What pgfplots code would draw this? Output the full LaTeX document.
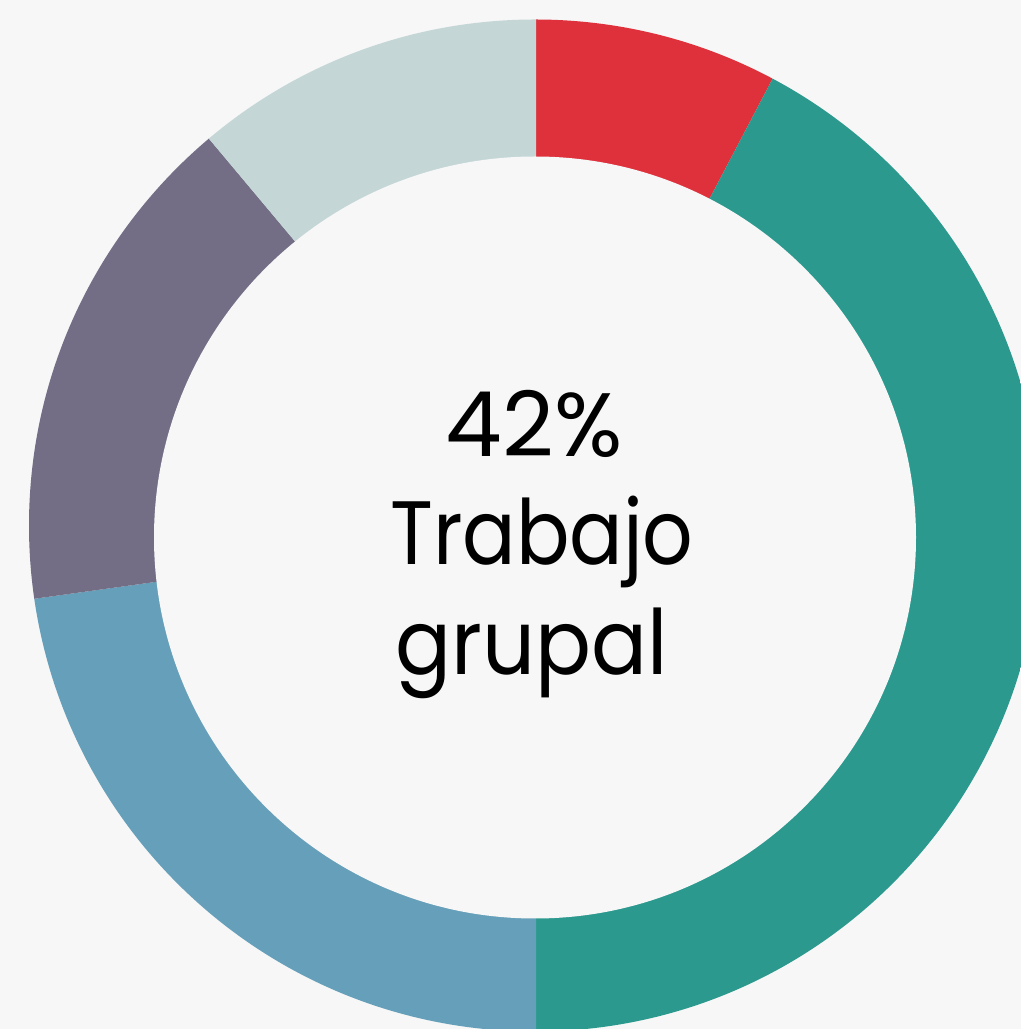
\documentclass[border=0pt]{standalone}
\usepackage{pgfplots}
\usepackage{pgfplotstable}
\pgfplotsset{compat=1.18}
\usepackage{fontspec}
\setmainfont{Poppins}
\newfontfamily\wordA{Poppins}[FakeStretch=0.88]
\newfontfamily\wordB{Poppins}[FakeStretch=0.92]
\definecolor{bgc}{HTML}{F7F7F7}
\definecolor{cred}{HTML}{DE313C}
\definecolor{cteal}{HTML}{2B998E}
\definecolor{cblue}{HTML}{669FB9}
\definecolor{cpurple}{HTML}{736E86}
\definecolor{cgray}{HTML}{C5D6D6}

\pgfplotstableread{
value
7.7
42.3
22.8
16.1
11.1
}\donut

% wedge from the centre: colour, start angle, end angle (degrees clockwise from top)
\newcommand\seg[3]{%
  \fill[#1] (axis cs:536,500) -- (axis cs:{536+650*cos(90-#2)},{500+650*sin(90-#2)})
    arc[start angle={90-#2}, end angle={90-#3}, radius=325pt] -- cycle;}

\begin{document}
\begin{tikzpicture}
\pgfplotstablegetelem{0}{value}\of\donut \let\vA\pgfplotsretval
\pgfplotstablegetelem{1}{value}\of\donut \let\vB\pgfplotsretval
\pgfplotstablegetelem{2}{value}\of\donut \let\vC\pgfplotsretval
\pgfplotstablegetelem{3}{value}\of\donut \let\vD\pgfplotsretval
\pgfplotstablegetelem{4}{value}\of\donut \let\vE\pgfplotsretval
\pgfmathsetmacro\aA{0}
\pgfmathsetmacro\aB{\aA+3.6*\vA}
\pgfmathsetmacro\aC{\aB+3.6*\vB}
\pgfmathsetmacro\aD{\aC+3.6*\vC}
\pgfmathsetmacro\aE{\aD+3.6*\vD}
\pgfmathsetmacro\aF{\aE+3.6*\vE}
\begin{axis}[x=0.5pt, y=0.5pt, xmin=0, xmax=1021, ymin=0, ymax=1029,
  hide axis, clip=true]
\fill[bgc] (axis cs:0,0) rectangle (axis cs:1021,1029);
\begin{scope}
\clip (axis cs:535,503.5) circle[radius=253pt];
\seg{cred}{\aA}{\aB}
\seg{cteal}{\aB}{\aC}
\seg{cblue}{\aC}{\aD}
\seg{cpurple}{\aD}{\aE}
\seg{cgray}{\aE}{\aF}
\end{scope}
\fill[bgc] (axis cs:535,491.5) circle[radius=190.5pt];
\node[anchor=base, font=\fontsize{45}{54}\selectfont] at (axis cs:534,572) {42\%};
\node[anchor=base, font=\wordA\fontsize{45}{54}\selectfont] at (axis cs:542,464) {Trabajo};
\node[anchor=base, font=\wordB\fontsize{45}{54}\selectfont] at (axis cs:532,354) {grupal};
\end{axis}
\pgfresetboundingbox
\useasboundingbox (current axis.south west) rectangle (current axis.north east);
\end{tikzpicture}
\end{document}
